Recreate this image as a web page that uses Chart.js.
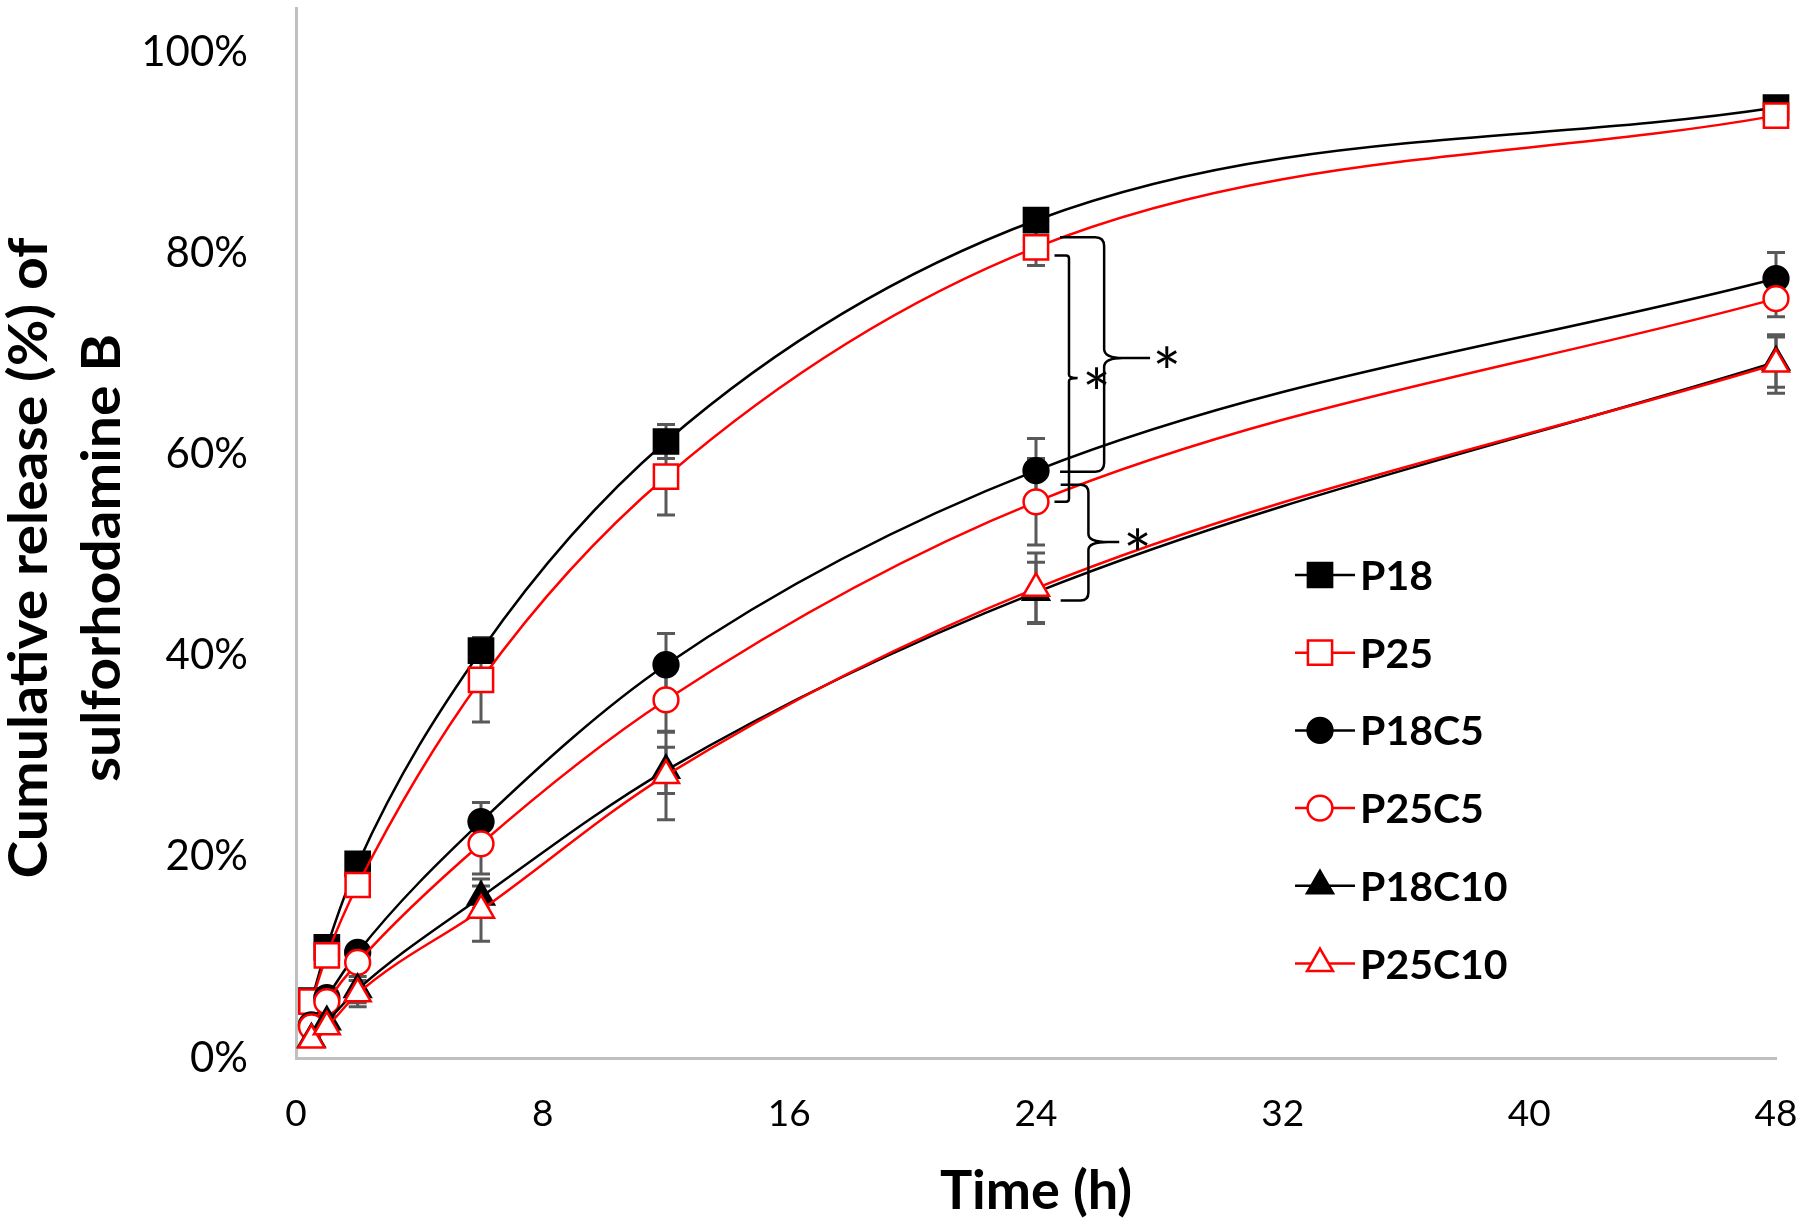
<!DOCTYPE html>
<html>
<head>
<meta charset="utf-8">
<script src="https://cdn.jsdelivr.net/npm/chart.js@4.4.1/dist/chart.umd.min.js"></script>
<style>
  html, body { margin: 0; padding: 0; background: #ffffff; }
  #c { display: block; }
</style>
</head>
<body>
<canvas id="c" width="1800" height="1224"></canvas>
<script>
// ---------------- DATA ----------------
const times = [0.5, 1, 2, 6, 12, 24, 48];           // h
const seriesNames = ['P18', 'P25', 'P18C5', 'P25C5', 'P18C10', 'P25C10'];

// cumulative release (%)
const p18    = [5.7, 11.0, 19.3, 40.5, 61.3, 83.3, 94.5];
const p25    = [5.6, 10.2, 17.2, 37.6, 57.8, 80.6, 93.7];
const p18c5  = [3.3, 6.0, 10.5, 23.5, 39.1, 58.4, 77.5];
const p25c5  = [3.1, 5.6, 9.5, 21.3, 35.6, 55.3, 75.5];
const p18c10 = [1.9, 3.6, 6.8, 16.0, 28.6, 46.3, 69.2];
const p25c10 = [1.8, 3.1, 6.4, 14.7, 28.1, 46.7, 69.0];

// standard deviations (%)
const p18Sd    = [0.3, 0.5, 0.6, 0.9, 1.7, 0.8, 0.5];
const p25Sd    = [0.5, 0.6, 0.8, 4.2, 3.8, 1.8, 0.6];
const p18c5Sd  = [0.4, 0.6, 0.8, 1.9, 3.1, 3.2, 2.6];
const p25c5Sd  = [0.4, 0.6, 0.9, 3.0, 3.2, 4.3, 1.8];
const p18c10Sd = [0.3, 0.6, 1.3, 1.1, 2.3, 3.0, 2.5];
const p25c10Sd = [0.3, 0.5, 1.3, 3.1, 4.4, 3.5, 2.9];

// tick labels
const xTicks = [0, 8, 16, 24, 32, 40, 48];
const yTicks = [0, 20, 40, 60, 80, 100];

const xTitle = 'Time (h)';
const yTitleLines = ['Cumulative release (%) of', 'sulforhodamine B'];

// significance brackets (in data coordinates: time, %)
const bracketTimes = [
  { start: 24.78, spine: 26.21, tip: 26.82, tail: 27.7, star: 28.25 },
  { start: 24.6,  spine: 25.07, tip: 25.35, tail: 25.35, star: 25.97 },
  { start: 24.8,  spine: 25.7,  tip: 26.33, tail: 26.7, star: 27.3 }
];
const bracketLevels = [
  { top: 81.6, mid: 69.6, bot: 58.3, star: 69.7 },
  { top: 79.8, mid: 67.6, bot: 55.3, star: 67.6 },
  { top: 57.0, mid: 51.3, bot: 45.5, star: 51.6 }
];
const bracketLabel = '*';

// ---------------- STYLES ----------------
const valueSets = [p18, p25, p18c5, p25c5, p18c10, p25c10];
const sdSets = [p18Sd, p25Sd, p18c5Sd, p25c5Sd, p18c10Sd, p25c10Sd];
const styleSets = [
  { color: '#000000', fill: '#000000', shape: 'rect',     r: 17.1 },
  { color: '#ff0000', fill: '#ffffff', shape: 'rect',     r: 17.1 },
  { color: '#000000', fill: '#000000', shape: 'circle',   r: 12.4 },
  { color: '#ff0000', fill: '#ffffff', shape: 'circle',   r: 12.4 },
  { color: '#000000', fill: '#000000', shape: 'triangle', r: 15 },
  { color: '#ff0000', fill: '#ffffff', shape: 'triangle', r: 15 }
];
const FONT = 'Lato, "Open Sans", "DejaVu Sans", sans-serif';

const datasets = seriesNames.map((name, k) => ({
  label: name,
  data: times.map((t, i) => ({ x: t, y: valueSets[k][i] })),
  showLine: true,
  borderColor: styleSets[k].color,
  backgroundColor: styleSets[k].fill,
  borderWidth: 2.5,
  pointStyle: styleSets[k].shape,
  pointRadius: styleSets[k].r,
  pointHoverRadius: styleSets[k].r,
  pointBorderWidth: 2.5,
  pointHoverBorderWidth: 2.5,
  pointBorderColor: styleSets[k].color,
  pointBackgroundColor: styleSets[k].fill,
  cubicInterpolationMode: 'monotone',
  fill: false,
  clip: false,
  order: seriesNames.length - k
}));

// ---------------- PLUGINS ----------------
const errorBarPlugin = {
  id: 'errorBars',
  beforeDatasetsDraw(chart) {
    const { ctx } = chart;
    const xs = chart.scales.x, ys = chart.scales.y;
    ctx.save();
    ctx.strokeStyle = '#595959';
    ctx.lineWidth = 3;
    sdSets.forEach((sds, k) => {
      sds.forEach((sd, i) => {
        const v = valueSets[k][i];
        const px = xs.getPixelForValue(times[i]);
        const yt = ys.getPixelForValue(v + sd);
        const yb = ys.getPixelForValue(v - sd);
        ctx.beginPath();
        ctx.moveTo(px, yt); ctx.lineTo(px, yb);
        ctx.moveTo(px - 9, yt); ctx.lineTo(px + 9, yt);
        ctx.moveTo(px - 9, yb); ctx.lineTo(px + 9, yb);
        ctx.stroke();
      });
    });
    ctx.restore();
  }
};

function drawStar(ctx, cx, cy) {
  ctx.font = '52px ' + FONT;
  let m = ctx.measureText(bracketLabel);
  const h0 = (m.actualBoundingBoxAscent || 20) + (m.actualBoundingBoxDescent || 0);
  const size = 52 * 22 / h0;
  ctx.font = size.toFixed(1) + 'px ' + FONT;
  m = ctx.measureText(bracketLabel);
  const left = m.actualBoundingBoxLeft || 0, right = m.actualBoundingBoxRight || m.width;
  const asc = m.actualBoundingBoxAscent || 20, desc = m.actualBoundingBoxDescent || 0;
  ctx.textAlign = 'left';
  ctx.textBaseline = 'alphabetic';
  ctx.fillText(bracketLabel, cx - (right - left) / 2, cy - (desc - asc) / 2);
}

const bracketPlugin = {
  id: 'brackets',
  afterDatasetsDraw(chart) {
    const { ctx } = chart;
    const xs = chart.scales.x, ys = chart.scales.y;
    const radii = [9, 3, 8];
    ctx.save();
    ctx.strokeStyle = '#000000';
    ctx.fillStyle = '#000000';
    ctx.lineWidth = 2.5;
    bracketTimes.forEach((bt, k) => {
      const bl = bracketLevels[k];
      const r = radii[k];
      const x0 = xs.getPixelForValue(bt.start);
      const xv = xs.getPixelForValue(bt.spine);
      const xt = xs.getPixelForValue(bt.tip);
      const xe = xs.getPixelForValue(bt.tail);
      const yt = ys.getPixelForValue(bl.top);
      const ym = ys.getPixelForValue(bl.mid);
      const yb = ys.getPixelForValue(bl.bot);
      ctx.beginPath();
      ctx.moveTo(x0, yt);
      ctx.lineTo(xv - r, yt);
      ctx.quadraticCurveTo(xv, yt, xv, yt + r);
      ctx.lineTo(xv, ym - r);
      ctx.quadraticCurveTo(xv, ym, xt, ym);
      ctx.quadraticCurveTo(xv, ym, xv, ym + r);
      ctx.lineTo(xv, yb - r);
      ctx.quadraticCurveTo(xv, yb, xv - r, yb);
      ctx.lineTo(x0, yb);
      ctx.moveTo(xt, ym);
      ctx.lineTo(xe, ym);
      ctx.stroke();
      drawStar(ctx, xs.getPixelForValue(bt.star), ys.getPixelForValue(bl.star));
    });
    ctx.restore();
  }
};

function markerPath(ctx, shape, r, x, y) {
  ctx.beginPath();
  if (shape === 'rect') {
    const s = Math.SQRT1_2 * r;
    ctx.rect(x - s, y - s, 2 * s, 2 * s);
  } else if (shape === 'circle') {
    ctx.arc(x, y, r, 0, Math.PI * 2);
  } else {
    const w = r * Math.sin(Math.PI * 2 / 3);
    ctx.moveTo(x, y - r);
    ctx.lineTo(x + w, y + r / 2);
    ctx.lineTo(x - w, y + r / 2);
  }
  ctx.closePath();
}

const legendPlugin = {
  id: 'customLegend',
  afterDraw(chart) {
    const { ctx } = chart;
    const lx0 = 1295, lx1 = 1355, mx = 1320, tx = 1360;
    const y0 = 575, step = 77.7;
    ctx.save();
    seriesNames.forEach((name, k) => {
      const st = styleSets[k];
      const y = y0 + step * k;
      ctx.strokeStyle = st.color;
      ctx.lineWidth = 2.5;
      ctx.beginPath();
      ctx.moveTo(lx0, y); ctx.lineTo(lx1, y);
      ctx.stroke();
      ctx.fillStyle = st.fill;
      markerPath(ctx, st.shape, st.r, mx, y);
      ctx.fill();
      ctx.stroke();
      ctx.fillStyle = '#000000';
      ctx.font = 'bold 41px ' + FONT;
      ctx.textAlign = 'left';
      ctx.textBaseline = 'alphabetic';
      ctx.fillText(name, tx, y + 15);
    });
    ctx.restore();
  }
};

const yTitlePlugin = {
  id: 'yTitle',
  afterDraw(chart) {
    const { ctx } = chart;
    ctx.save();
    ctx.font = 'bold 53px ' + FONT;
    const w1 = ctx.measureText(yTitleLines[0]).width;
    const sx = 641 / w1;
    ctx.fillStyle = '#000000';
    ctx.translate(47, 558);
    ctx.rotate(-Math.PI / 2);
    ctx.scale(sx, 1);
    ctx.textAlign = 'center';
    ctx.textBaseline = 'alphabetic';
    ctx.fillText(yTitleLines[0], 0, 0);
    ctx.fillText(yTitleLines[1], 0, 73);
    ctx.restore();
  }
};

// ---------------- CHART ----------------
new Chart(document.getElementById('c'), {
  type: 'scatter',
  data: { datasets },
  options: {
    responsive: false,
    animation: false,
    devicePixelRatio: 1,
    events: [],
    layout: { autoPadding: false, padding: { top: 8, right: 24, left: 0, bottom: 0 } },
    plugins: {
      legend: { display: false },
      tooltip: { enabled: false }
    },
    scales: {
      x: {
        type: 'linear',
        min: 0,
        max: 48,
        afterBuildTicks: (s) => { s.ticks = xTicks.map(v => ({ value: v })); },
        grid: { display: false, drawTicks: false, tickLength: 0 },
        border: { display: true, color: '#c0c0c0', width: 3 },
        ticks: {
          color: '#000000',
          font: { family: FONT, size: 37 },
          padding: 34,
          maxRotation: 0,
          autoSkip: false
        },
        title: {
          display: true,
          text: xTitle,
          color: '#000000',
          font: { family: FONT, size: 54, weight: 'bold', lineHeight: 1.2 },
          padding: { top: 0, bottom: 0 }
        },
        afterFit: (s) => { s.height = 166; s.paddingLeft = 0; s.paddingRight = 0; }
      },
      y: {
        type: 'linear',
        min: 0,
        max: 104.4,
        afterBuildTicks: (s) => { s.ticks = yTicks.map(v => ({ value: v })); },
        grid: { display: false, drawTicks: false, tickLength: 0 },
        border: { display: true, color: '#c0c0c0', width: 3 },
        ticks: {
          color: '#000000',
          font: { family: FONT, size: 42 },
          padding: 48,
          callback: (v) => v + '%'
        },
        afterFit: (s) => { s.width = 296; s.paddingTop = 0; s.paddingBottom = 0; }
      }
    }
  },
  plugins: [errorBarPlugin, bracketPlugin, legendPlugin, yTitlePlugin]
});
</script>
</body>
</html>
